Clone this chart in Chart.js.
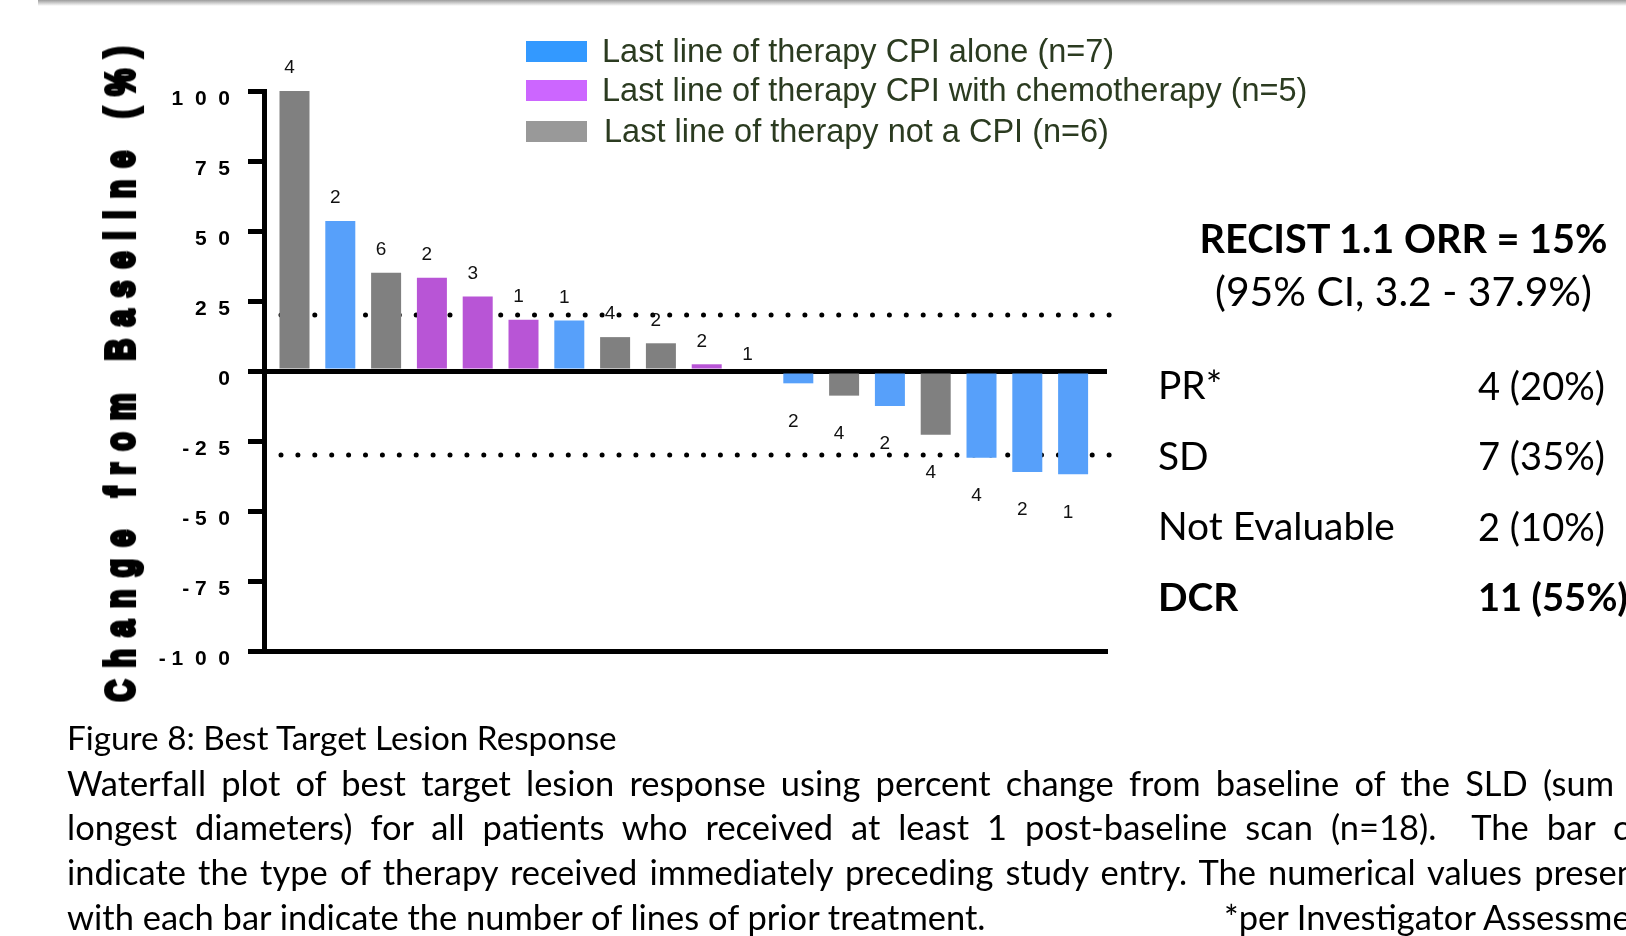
<!DOCTYPE html>
<html>
<head>
<meta charset="utf-8">
<title>Best Target Lesion Response</title>
<script src="https://cdn.jsdelivr.net/npm/chart.js@4.4.1/dist/chart.umd.min.js"></script>
<style>
html, body { margin: 0; padding: 0; background: #fff; }
body { width: 1626px; height: 936px; position: relative; overflow: hidden; }
#shade { position: absolute; left: 38px; top: 0; width: 1588px; height: 6px; background: linear-gradient(#9c9c9c, #ffffff); }
#waterfall { position: absolute; left: 0; top: 0; }
#ytitle {
    position: absolute; left: 121px; top: 368px; white-space: nowrap;
    font: bold 30px "Liberation Sans", Arial, sans-serif; letter-spacing: 12.3px;
    -webkit-text-stroke: 3px #000;
    transform: translate(-50%, -50%) rotate(-90deg) scaleY(1.35);
}
.legend-row { position: absolute; left: 526px; height: 32px; line-height: 32px; display: flex; align-items: center;
    font: 32.5px "Liberation Sans", Arial, sans-serif; color: #2b3b20; white-space: nowrap; }
.legend-row i { display: inline-block; width: 61px; height: 21px; margin-right: 15px; }
.txt { position: absolute; white-space: nowrap; line-height: 1; font-family: Lato, "Open Sans", sans-serif; color: #000; font-size: 40px; }
.bold { font-weight: bold; }
.centered { transform: translateX(-50%); }
</style>
</head>
<body>
<div id="shade"></div>
<canvas id="waterfall" width="1626" height="936"></canvas>
<div id="ytitle">Change from Baseline (%)</div>
<div id="legend"></div>
<div id="panel"></div>
<div id="caption"></div>

<script>
// percent change from baseline of the SLD, one bar per patient (sorted)
const changeFromBaseline = [100, 53.6, 35.1, 33.3, 26.6, 18.3, 18.0, 12.1, 9.9, 2.4, 0, -4.4, -8.8, -12.5, -22.8, -31.0, -36.1, -36.9];
// number of lines of prior treatment, printed at each bar
const priorLines = [4, 2, 6, 2, 3, 1, 1, 4, 2, 2, 1, 2, 4, 2, 4, 4, 2, 1];
// last line of therapy before study entry
const therapyGroup = ['notCPI', 'alone', 'notCPI', 'chemo', 'chemo', 'chemo', 'alone', 'notCPI', 'notCPI', 'chemo',
                      'chemo', 'alone', 'notCPI', 'alone', 'notCPI', 'alone', 'alone', 'alone'];
const groupKeys = ['alone', 'chemo', 'notCPI'];
const groupLabels = ['Last line of therapy CPI alone (n=7)',
                     'Last line of therapy CPI with chemotherapy (n=5)',
                     'Last line of therapy not a CPI (n=6)'];
const barColors = { alone: '#57a0fa', chemo: '#b855d6', notCPI: '#808080' };
const legendColors = { alone: '#3399ff', chemo: '#cc66ff', notCPI: '#999999' };
// dotted reference lines (+20% progression, -30% response)
const responseCutoffs = [20, -30];
const yTicks = [-100, -75, -50, -25, 0, 25, 50, 75, 100];

const statLabels = ['PR*', 'SD', 'Not Evaluable', 'DCR'];
const statValues = ['4 (20%)', '7 (35%)', '2 (10%)', '11 (55%)'];
const statBold = [false, false, false, true];

function spacedLabel(v) {
    const s = String(Math.abs(v)).split('').join('  ');
    return v < 0 ? '- ' + s : s;
}

// dotted lines go under the bars
const cutoffLines = {
    id: 'cutoffLines',
    beforeDatasetsDraw(chart) {
        const { ctx, chartArea, scales } = chart;
        ctx.save();
        ctx.strokeStyle = '#000';
        ctx.lineWidth = 5;
        ctx.lineCap = 'round';
        ctx.setLineDash([0, 16.9]);
        responseCutoffs.forEach(v => {
            const y = scales.y.getPixelForValue(v);
            ctx.beginPath();
            ctx.moveTo(chartArea.left + 17, y);
            ctx.lineTo(chartArea.right + 5, y);
            ctx.stroke();
        });
        ctx.restore();
    }
};

const barNumbers = {
    id: 'barNumbers',
    afterDatasetsDraw(chart) {
        const ctx = chart.ctx;
        const meta = chart.getDatasetMeta(0);
        ctx.save();
        ctx.font = '19px "Liberation Sans", Arial, sans-serif';
        ctx.fillStyle = '#111';
        ctx.textAlign = 'center';
        ctx.textBaseline = 'middle';
        meta.data.forEach((bar, i) => {
            const v = changeFromBaseline[i];
            let y = bar.y + 38;
            if (v > 0) y = bar.y - 23;
            else if (v === 0) y = bar.y - 16;
            ctx.fillText(String(priorLines[i]), bar.x - 5, y);
        });
        ctx.restore();
    }
};

new Chart(document.getElementById('waterfall'), {
    type: 'bar',
    data: {
        datasets: [{
            data: changeFromBaseline.map((v, i) => ({ x: i, y: v })),
            backgroundColor: therapyGroup.map(g => barColors[g]),
            barThickness: 30,
            borderWidth: 0,
            inflateAmount: 0
        }]
    },
    options: {
        responsive: false,
        animation: false,
        devicePixelRatio: 1,
        layout: { padding: { top: 91, bottom: 285, left: 0, right: 519 } },
        plugins: { legend: { display: false }, tooltip: { enabled: false } },
        scales: {
            x: {
                type: 'linear', min: -0.666, max: 17.74, offset: false,
                afterFit: s => { s.height = 0; },
                ticks: { display: false },
                grid: { display: false },
                border: { display: true, color: '#000', width: 5 }
            },
            y: {
                min: -100, max: 100, z: 1,
                afterFit: s => { s.width = 264; },
                afterBuildTicks: s => { s.ticks = yTicks.map(v => ({ value: v })); },
                ticks: {
                    callback: v => spacedLabel(v),
                    font: { family: '"Liberation Sans", Arial, sans-serif', size: 21, weight: 'bold' },
                    color: '#000', padding: 18, labelOffset: 8
                },
                grid: {
                    color: c => (c.tick && c.tick.value === 0) ? '#000' : 'rgba(0,0,0,0)',
                    lineWidth: 5, tickLength: 16, tickColor: '#000', tickWidth: 5
                },
                border: { color: '#000', width: 5 }
            }
        }
    },
    plugins: [cutoffLines, barNumbers]
});

// legend
const legendTops = [35.5, 74.5, 115.5];
groupKeys.forEach((k, i) => {
    const row = document.createElement('div');
    row.className = 'legend-row';
    row.style.top = legendTops[i] + 'px';
    row.innerHTML = '<i style="background:' + legendColors[k] + '"></i><span>' + groupLabels[i] + '</span>';
    if (i === 2) row.querySelector('span').style.marginLeft = '2px';
    document.getElementById('legend').appendChild(row);
});

// text helpers
function addText(parent, text, cls) {
    const el = document.createElement('div');
    el.className = 'txt ' + (cls || '');
    el.innerHTML = text;
    parent.appendChild(el);
    return el;
}
function fitFont(el, target) {
    const size = parseFloat(getComputedStyle(el).fontSize);
    const w = el.getBoundingClientRect().width;
    const s = size * target / w;
    el.style.fontSize = s + 'px';
    return s;
}
function centerY(el, cy) {
    const s = parseFloat(getComputedStyle(el).fontSize);
    el.style.top = (cy - 0.528 * s) + 'px';
}

// right panel
const panel = document.getElementById('panel');
const orr = addText(panel, 'RECIST 1.1 ORR = 15%', 'bold centered');
orr.style.left = '1403.5px';
fitFont(orr, 408);
centerY(orr, 238.5);
const ci = addText(panel, '(95% CI, 3.2 - 37.9%)', 'centered');
ci.style.left = '1403.5px';
fitFont(ci, 377);
centerY(ci, 292.5);

const rowY = [385.8, 456.3, 526.8, 597.3];
const probe = addText(panel, 'Not Evaluable');
const labelSize = fitFont(probe, 237);
probe.remove();
const probe2 = addText(panel, '4 (20%)');
const valueSize = fitFont(probe2, 127);
probe2.remove();
statLabels.forEach((t, i) => {
    const a = addText(panel, t, statBold[i] ? 'bold' : '');
    a.style.fontSize = labelSize + 'px';
    a.style.left = '1158px';
    centerY(a, rowY[i]);
    const b = addText(panel, statValues[i], statBold[i] ? 'bold' : '');
    b.style.fontSize = valueSize + 'px';
    b.style.left = '1478px';
    centerY(b, rowY[i]);
});

// caption
const cap = document.getElementById('caption');
const title = addText(cap, 'Figure 8: Best Target Lesion Response');
title.style.left = '67px';
fitFont(title, 550);
centerY(title, 739);

const last = addText(cap, 'with each bar indicate the number of lines of prior treatment.');
last.style.left = '67px';
const bodySize = fitFont(last, 919);
centerY(last, 917.9);
const note = addText(cap, '*per Investigator Assessment');
note.style.fontSize = bodySize + 'px';
note.style.left = '1224px';
centerY(note, 917.9);

const bodyLines = [
    ['Waterfall plot of best target lesion response using percent change from baseline of the SLD (sum', ' of the', 1547, 784],
    ['longest diameters) for all patients who received at least 1 post-baseline scan (n=18).&nbsp; The bar', ' colors', 1528, 828.6],
    ['indicate the type of therapy received immediately preceding study entry. The numerical values', ' presented', 1455, 873.3]
];
bodyLines.forEach(([anchor, tail, target, cy]) => {
    const el = addText(cap, '<span>' + anchor + '</span>' + tail);
    el.style.fontSize = bodySize + 'px';
    el.style.left = '67px';
    const span = el.querySelector('span');
    const gaps = span.textContent.split(/[ \u00a0]/).length - 1;
    const extra = (target - span.getBoundingClientRect().width) / gaps;
    el.style.wordSpacing = extra + 'px';
    centerY(el, cy);
});
</script>
</body>
</html>
